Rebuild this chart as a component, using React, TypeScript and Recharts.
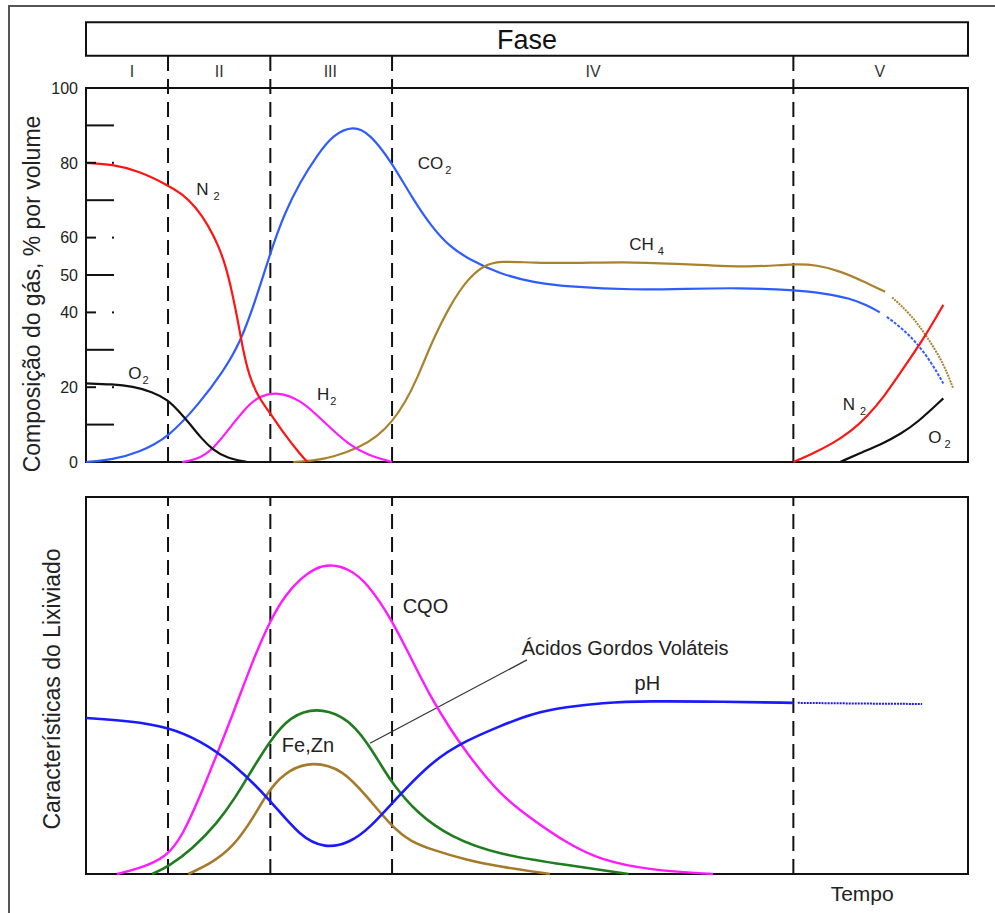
import { LineChart, Line, XAxis, YAxis, ReferenceLine, ReferenceArea, ReferenceDot } from 'recharts';

type Par = [number, number];

// Tempo numa escala 0-100 ao longo do eixo horizontal
const limitesFase = [9.3, 20.9, 34.7, 80.2];
const fases = ['I', 'II', 'III', 'IV', 'V'];
const centroFases = [5.2, 15.1, 27.7, 57.5, 90.0];

const ticksGas = [0, 10, 20, 30, 40, 50, 60, 70, 80, 90, 100];
const ticksComRotulo = [0, 20, 40, 50, 60, 80, 100];

// Composição do gás, % por volume
const o2Inicio: Par[] = [
  [0, 21], [3, 20.8], [5.3, 20.2], [7.5, 18.8], [9.3, 16.6], [10.5, 13.6], [11.6, 10.7],
  [13, 6.5], [14.4, 3.2], [16, 1], [18.3, 0],
];
const n2Inicio: Par[] = [
  [0, 80], [3, 79.6], [6, 77.8], [9.3, 74], [11, 71.5], [12.5, 68], [13.8, 63.5], [15, 58],
  [15.9, 52], [16.6, 45], [17.2, 38], [17.8, 30], [18.5, 23], [19.5, 17.5], [20.9, 13],
  [22.3, 8], [24.3, 2], [25.1, 0],
];
const co2: Par[] = [
  [0, 0], [3, 0.6], [6, 2.6], [9.3, 6.4], [12.9, 15.8], [15.5, 24], [17.5, 32], [19.2, 43],
  [20.9, 56], [22.5, 66.5], [24.3, 75], [26.2, 82], [28, 87.5], [30.3, 90], [32.2, 87.8],
  [34.7, 80], [37, 70.5], [39.3, 62.5], [41.3, 57.5], [43.2, 54.5], [46.9, 50.3], [50.7, 48],
  [55, 46.8], [62, 46], [68, 46.3], [74, 46.6], [80.2, 46], [84, 45], [86.5, 43.8],
  [88.5, 42], [90, 40],
];
const co2Final: Par[] = [[90.8, 38.8], [92.5, 35.8], [94.2, 31.8], [95.8, 26.8], [97.2, 21]];
const ch4: Par[] = [
  [23.5, 0], [26, 0.4], [28, 1.3], [31.1, 4], [33, 6.8], [34.7, 10.7], [36.2, 16], [37.5, 22],
  [39.3, 32.6], [41.3, 42], [43.2, 48.7], [45, 52.5], [46.9, 53.8], [50.7, 53.2], [56, 53.2],
  [62, 53.5], [69, 52.8], [75.3, 52], [80.2, 53], [82.9, 52.7], [85.5, 51], [87.8, 48.7],
  [90.6, 45.5],
];
const ch4Final: Par[] = [[91.4, 44], [93.5, 39.5], [95.4, 33.4], [97.2, 26.5], [98.3, 19.8]];
const h2: Par[] = [
  [10.9, 0], [12.5, 0.6], [14.4, 3.2], [16.7, 10.4], [18.5, 15.5], [19.7, 17.6], [21.7, 18.8],
  [24.3, 16.6], [26.2, 12.5], [28, 8.5], [29.9, 4.5], [32, 1.8], [34.7, 0],
];
const n2Final: Par[] = [[80.2, 0], [82.5, 2.4], [84.7, 5], [86.8, 8.3], [88.5, 12], [90.5, 17.5], [92.3, 23.8], [94.9, 32.6], [97.2, 42]];
const o2Final: Par[] = [[85.5, 0], [88, 2.6], [90.4, 5], [92.4, 7.6], [94.2, 10.4], [97.2, 17]];

// Características do lixiviado (escala relativa 0-100)
const cqo: Par[] = [
  [3.5, 0], [6, 1.4], [9.2, 4.5], [11, 10.5], [12.9, 20.4], [14.8, 31.5], [16.7, 42.7],
  [18.8, 56], [20.9, 67.4], [22.6, 74], [24.3, 78.3], [26, 81.2], [27.7, 82.2], [29.8, 81],
  [31.9, 77.2], [34.7, 67.4], [37, 56.5], [39.3, 46], [41.3, 38.5], [43.2, 32], [46.9, 21],
  [50.7, 14.3], [54.5, 8.2], [58.3, 3.7], [63.9, 1], [71.1, 0],
];
const agv: Par[] = [
  [7.5, 0], [9.3, 1.9], [12, 6.5], [14.9, 13.5], [17, 20.5], [18.6, 26.8], [20.9, 35.5],
  [23.1, 41.8], [26.2, 44.2], [29.1, 41.8], [30.6, 38.6], [31.9, 34.7], [33.3, 29.5],
  [34.7, 24.1], [37.5, 16.2], [41.3, 9.8], [46.9, 5], [54.5, 2.4], [61.5, 0],
];
const feZn: Par[] = [
  [11.6, 0], [14.2, 2.8], [16.7, 7.2], [19, 15], [20.9, 23], [23.1, 27.8], [25.7, 29.8],
  [29.1, 27.8], [31.9, 20.4], [34.7, 12.5], [36.8, 8.6], [39.3, 6.4], [43, 3.8], [46.9, 1.9],
  [52.6, 0],
];
const ph: Par[] = [
  [0, 41.4], [5, 40.6], [9.3, 39], [12.9, 35.5], [16.7, 29.4], [20.9, 19.6], [24.3, 9.8],
  [27.1, 6.8], [29.9, 8.2], [32.3, 12.5], [34.7, 18.8], [39.3, 30.2], [43.2, 35.5],
  [46.9, 39.2], [50.7, 42.7], [54.5, 44.3], [58.3, 45.4], [63.9, 45.9], [72, 45.7], [80.2, 45.4],
];
const phFinal: Par[] = [[80.7, 45.4], [88, 45.2], [94.8, 45.1]];

// Rótulos das curvas (posição inicial do texto)
const rotulosGas = [
  { base: 'N', sub: '2', t: 12.5, v: 71.4, gap: 5 },
  { base: 'CO', sub: '2', t: 37.6, v: 78.3, gap: 2 },
  { base: 'CH', sub: '4', t: 61.6, v: 56.7, gap: 4 },
  { base: 'O', sub: '2', t: 4.8, v: 22.2, gap: 1 },
  { base: 'H', sub: '2', t: 26.2, v: 16.6, gap: 1 },
  { base: 'N', sub: '2', t: 85.8, v: 13.9, gap: 5 },
  { base: 'O', sub: '2', t: 95.5, v: 5.1, gap: 3 },
];
const rotulosLixiviado = [
  { texto: 'CQO', t: 35.9, v: 69.2 },
  { texto: 'Fe,Zn', t: 22.2, v: 32.4 },
  { texto: 'Ácidos Gordos Voláteis', t: 49.4, v: 58.1 },
  { texto: 'pH', t: 62.2, v: 48.8 },
];
const linhaChamada = [{ x: 32.2, y: 34.7 }, { x: 50.0, y: 56.8 }];

const pts = (a: Par[]) => a.map(([t, v]) => ({ t, v }));

const TRACO = '15 8';

const GasTick = (props: any) => {
  const { x, y, payload } = props;
  const v = payload.value;
  const longa = v % 20 === 10;
  const interior = v > 0 && v < 100;
  return (
    <g>
      {ticksComRotulo.includes(v) && (
        <text x={x - 8} y={y} dy="0.36em" textAnchor="end" fontSize={16} fill="#222">
          {v}
        </text>
      )}
      {interior && (
        <line x1={x} x2={x + (longa ? 28 : 10)} y1={y} y2={y} stroke="#111" strokeWidth={2} />
      )}
      {interior && !longa && <rect x={x + 26} y={y - 1} width={2} height={2} fill="#111" />}
    </g>
  );
};

function serie(dados: Par[], cor: string, largura = 2.2, traco?: string) {
  return (
    <Line
      data={pts(dados)}
      dataKey="v"
      type="basis"
      stroke={cor}
      strokeWidth={largura}
      strokeDasharray={traco}
      dot={false}
      activeDot={false}
      isAnimationActive={false}
    />
  );
}

export default function App() {
  return (
    <div
      style={{
        position: 'absolute',
        left: 0,
        top: 0,
        width: 995,
        height: 913,
        overflow: 'hidden',
        background: '#fff',
        fontFamily: '"Liberation Sans", Arial, sans-serif',
      }}
    >
      <div
        style={{
          position: 'absolute',
          left: 8,
          top: 5,
          width: 1200,
          height: 1200,
          borderLeft: '2px solid #555',
          borderTop: '2px solid #555',
        }}
      />

      <div style={{ position: 'absolute', left: 0, top: 0 }}>
        <LineChart width={995} height={480} margin={{ top: 88, right: 27, bottom: 18, left: 26 }}>
          <XAxis type="number" dataKey="t" domain={[0, 100]} hide />
          <YAxis
            type="number"
            domain={[0, 100]}
            ticks={ticksGas}
            interval={0}
            width={60}
            axisLine={false}
            tickLine={false}
            tickSize={0}
            tickMargin={0}
            tick={(p: any) => <GasTick {...p} />}
          />
          <ReferenceArea
            x1={0}
            x2={100}
            y1={108.6}
            y2={117.6}
            ifOverflow="visible"
            fill="none"
            stroke="#111"
            strokeWidth={2}
            label={{ value: 'Fase', position: 'center', fontSize: 27, fill: '#111' }}
          />
          <ReferenceArea x1={0} x2={100} y1={0} y2={100} fill="none" stroke="#111" strokeWidth={2} />
          {limitesFase.map((t) => (
            <ReferenceLine
              key={t}
              segment={[{ x: t, y: 0 }, { x: t, y: 108.6 }]}
              ifOverflow="visible"
              stroke="#111"
              strokeWidth={2}
              strokeDasharray={TRACO}
            />
          ))}
          {fases.map((f, i) => (
            <ReferenceDot
              key={f}
              x={centroFases[i]}
              y={104.5}
              ifOverflow="visible"
              shape={(p: any) => (
                <text x={p.cx} y={p.cy} dy="0.36em" textAnchor="middle" fontSize={16} fill="#333">
                  {f}
                </text>
              )}
            />
          ))}

          {serie(co2, '#2f5cff')}
          {serie(co2Final, '#2f5cff', 2, '3 1.5')}
          {serie(ch4, '#a8832c')}
          {serie(ch4Final, '#a8832c', 2, '2 1')}
          {serie(h2, '#ff1aff')}
          {serie(o2Inicio, '#111111')}
          {serie(n2Inicio, '#ff1414')}
          {serie(n2Final, '#ff1414')}
          {serie(o2Final, '#111111')}

          {rotulosGas.map((r, i) => (
            <ReferenceDot
              key={i}
              x={r.t}
              y={r.v}
              ifOverflow="visible"
              shape={(p: any) => (
                <text x={p.cx} y={p.cy} fontSize={17} fill="#222">
                  {r.base}
                  <tspan dx={r.gap} dy={5} fontSize={11}>
                    {r.sub}
                  </tspan>
                </text>
              )}
            />
          ))}
        </LineChart>
      </div>

      <div style={{ position: 'absolute', left: 0, top: 470 }}>
        <LineChart width={995} height={443} margin={{ top: 27, right: 27, bottom: 39, left: 86 }}>
          <XAxis type="number" dataKey="t" domain={[0, 100]} hide />
          <YAxis type="number" domain={[0, 100]} hide />
          <ReferenceArea x1={0} x2={100} y1={0} y2={100} fill="none" stroke="#111" strokeWidth={2} />
          {limitesFase.map((t) => (
            <ReferenceLine key={t} x={t} stroke="#111" strokeWidth={2} strokeDasharray={TRACO} />
          ))}
          <ReferenceLine segment={linhaChamada} stroke="#333" strokeWidth={1.2} />

          {serie(cqo, '#ff1aff', 2.4)}
          {serie(feZn, '#a57a2a', 2.6)}
          {serie(agv, '#1e7d1e', 2.6)}
          {serie(ph, '#1a1aff', 2.6)}
          {serie(phFinal, '#1a1aff', 2, '2 1')}

          {rotulosLixiviado.map((r) => (
            <ReferenceDot
              key={r.texto}
              x={r.t}
              y={r.v}
              ifOverflow="visible"
              shape={(p: any) => (
                <text x={p.cx} y={p.cy} fontSize={20} fill="#222">
                  {r.texto}
                </text>
              )}
            />
          ))}
          <ReferenceDot
            x={88}
            y={-7.2}
            ifOverflow="visible"
            shape={(p: any) => (
              <text x={p.cx} y={p.cy} textAnchor="middle" fontSize={21} fill="#222">
                Tempo
              </text>
            )}
          />
        </LineChart>
      </div>

      <div
        style={{
          position: 'absolute',
          left: 32,
          top: 294,
          transform: 'translate(-50%, -50%) rotate(-90deg)',
          fontSize: 23,
          whiteSpace: 'nowrap',
          color: '#222',
        }}
      >
        Composição do gás, % por volume
      </div>
      <div
        style={{
          position: 'absolute',
          left: 52,
          top: 689,
          transform: 'translate(-50%, -50%) rotate(-90deg)',
          fontSize: 23,
          whiteSpace: 'nowrap',
          color: '#222',
        }}
      >
        Características do Lixiviado
      </div>
    </div>
  );
}
